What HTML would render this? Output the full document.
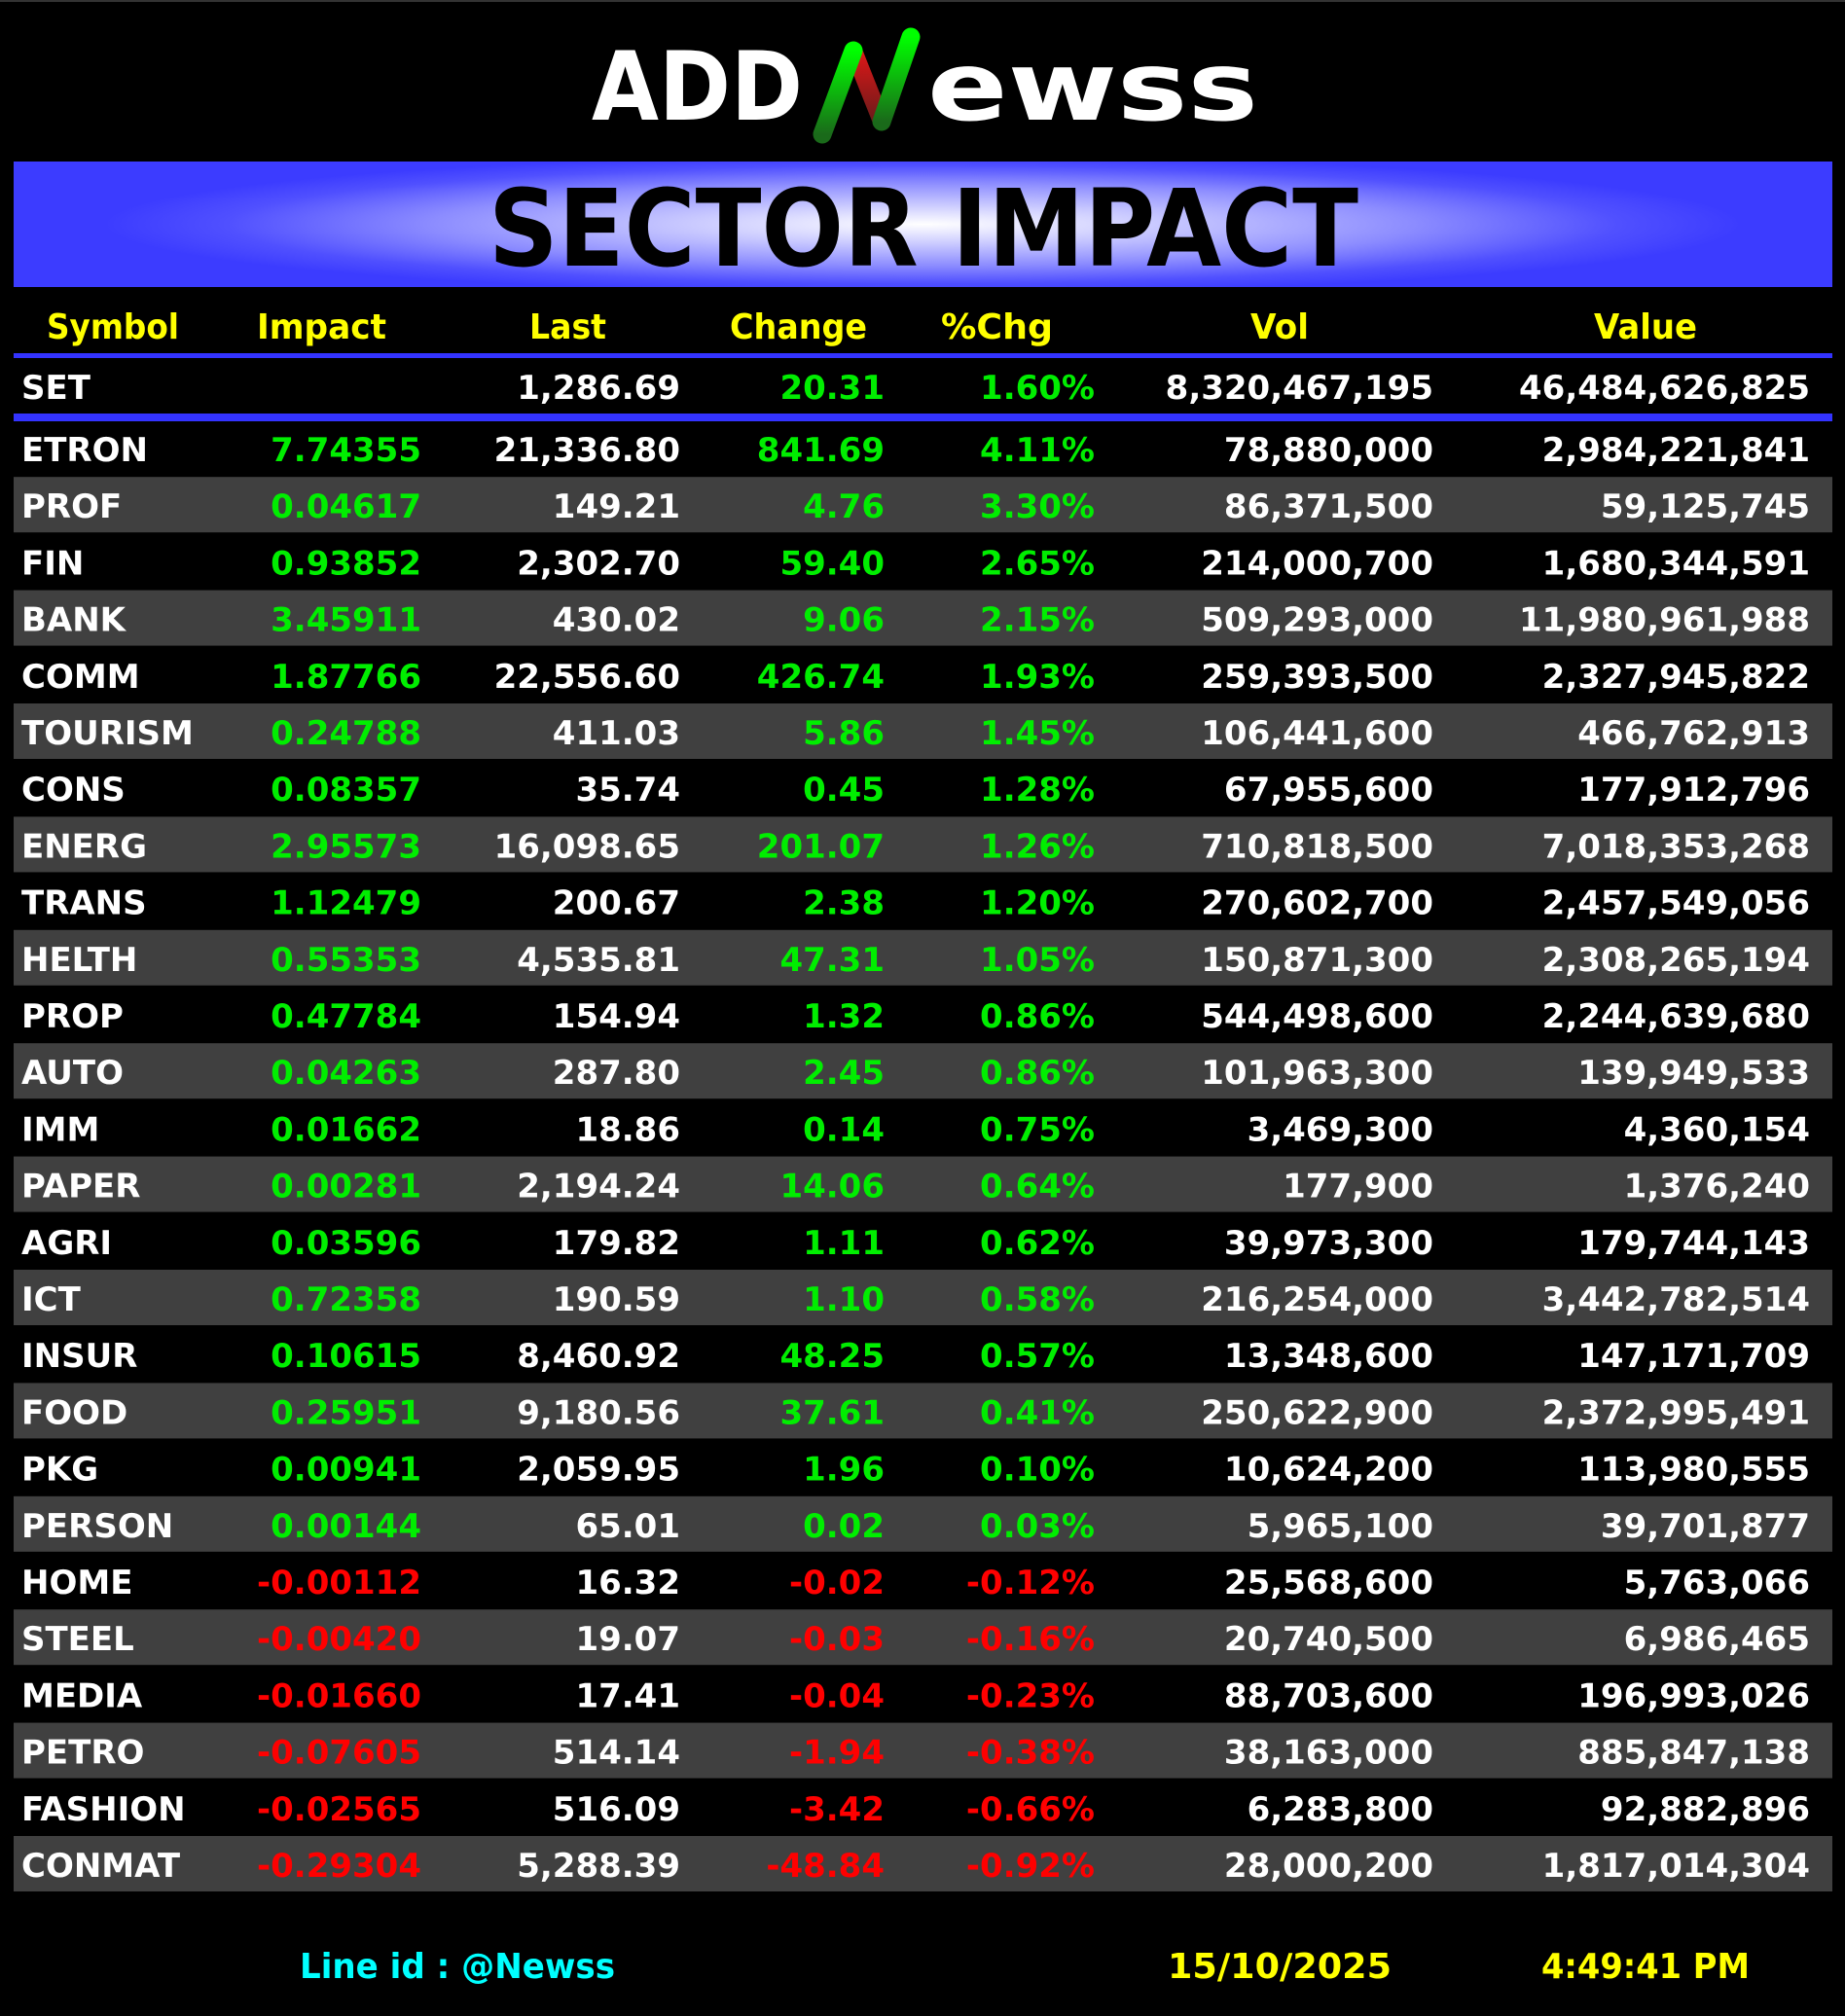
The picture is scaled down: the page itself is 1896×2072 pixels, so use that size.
<!DOCTYPE html>
<html><head><meta charset="utf-8"><style>
html,body{margin:0;padding:0;background:#000;}
svg{display:block;}
text{font-family:"DejaVu Sans","Liberation Sans",sans-serif;font-weight:bold;}
</style></head><body>
<svg width="1896" height="2072" viewBox="0 0 1896 2072" xmlns="http://www.w3.org/2000/svg">
<defs>
<radialGradient id="bg" cx="0.5" cy="0.5" r="0.5" gradientTransform="translate(0.5 0.5) scale(0.9 1.1) translate(-0.5 -0.5)">
<stop offset="0" stop-color="#ffffff"/>
<stop offset="0.25" stop-color="#d0d0ff"/>
<stop offset="0.6" stop-color="#8c8cff"/>
<stop offset="0.85" stop-color="#5050ff"/>
<stop offset="1" stop-color="#3c3cff"/>
</radialGradient>
<linearGradient id="gl" x1="0" y1="1" x2="0" y2="0"><stop offset="0" stop-color="#1a6a1a"/><stop offset="1" stop-color="#00ff00"/></linearGradient>
<linearGradient id="rd" x1="0" y1="0" x2="0" y2="1"><stop offset="0" stop-color="#e01818"/><stop offset="1" stop-color="#6a1a1a"/></linearGradient>
</defs>
<rect width="1896" height="2072" fill="#000"/>
<rect x="0" y="0" width="1896" height="2" fill="#333"/>
<!-- logo -->
<text x="608" y="123" font-size="98" fill="#fff" textLength="217" lengthAdjust="spacingAndGlyphs">ADD</text>
<text x="953" y="123" font-size="98" fill="#fff" textLength="340" lengthAdjust="spacingAndGlyphs">ewss</text>
<line x1="877" y1="52" x2="906" y2="125" stroke="url(#rd)" stroke-width="18" stroke-linecap="round"/>
<line x1="845" y1="138" x2="877" y2="52" stroke="url(#gl)" stroke-width="19" stroke-linecap="round"/>
<line x1="906" y1="125" x2="936" y2="38" stroke="url(#gl)" stroke-width="19" stroke-linecap="round"/>
<!-- banner -->
<rect x="14" y="166" width="1869" height="129" fill="#3c3cff"/>
<rect x="14" y="166" width="1869" height="129" fill="url(#bg)"/>
<text x="502" y="273" font-size="110" fill="#000" textLength="894" lengthAdjust="spacingAndGlyphs">SECTOR IMPACT</text>
<!-- headers -->
<g fill="#ffff00" font-size="36">
<text x="48" y="348" textLength="136" lengthAdjust="spacingAndGlyphs">Symbol</text>
<text x="264" y="348" textLength="133" lengthAdjust="spacingAndGlyphs">Impact</text>
<text x="544" y="348" textLength="79" lengthAdjust="spacingAndGlyphs">Last</text>
<text x="750" y="348" textLength="141" lengthAdjust="spacingAndGlyphs">Change</text>
<text x="967" y="348" textLength="115" lengthAdjust="spacingAndGlyphs">%Chg</text>
<text x="1285" y="348" textLength="60" lengthAdjust="spacingAndGlyphs">Vol</text>
<text x="1638" y="348" textLength="106" lengthAdjust="spacingAndGlyphs">Value</text>
</g>
<rect x="14" y="363" width="1869" height="5" fill="#3333ff"/>
<g font-size="34" text-anchor="end">
<text x="22" y="410" fill="#fff" text-anchor="start">SET</text>
<text x="699" y="410" fill="#fff">1,286.69</text>
<text x="909" y="410" fill="#00ee00">20.31</text>
<text x="1125" y="410" fill="#00ee00">1.60%</text>
<text x="1473" y="410" fill="#fff">8,320,467,195</text>
<text x="1860" y="410" fill="#fff">46,484,626,825</text>
</g>
<rect x="14" y="425" width="1869" height="8" fill="#3333ff"/>
<g id="rows" font-size="34"></g>
<!-- footer -->
<text x="308" y="2033" font-size="36" fill="#00ffff" textLength="324" lengthAdjust="spacingAndGlyphs">Line id  : @Newss</text>
<text x="1200" y="2033" font-size="36" fill="#ffff00" textLength="230" lengthAdjust="spacingAndGlyphs">15/10/2025</text>
<text x="1584" y="2033" font-size="36" fill="#ffff00" textLength="214" lengthAdjust="spacingAndGlyphs">4:49:41 PM</text>
</svg>
<script>
var d=[
["ETRON","7.74355","21,336.80","841.69","4.11%","78,880,000","2,984,221,841"],
["PROF","0.04617","149.21","4.76","3.30%","86,371,500","59,125,745"],
["FIN","0.93852","2,302.70","59.40","2.65%","214,000,700","1,680,344,591"],
["BANK","3.45911","430.02","9.06","2.15%","509,293,000","11,980,961,988"],
["COMM","1.87766","22,556.60","426.74","1.93%","259,393,500","2,327,945,822"],
["TOURISM","0.24788","411.03","5.86","1.45%","106,441,600","466,762,913"],
["CONS","0.08357","35.74","0.45","1.28%","67,955,600","177,912,796"],
["ENERG","2.95573","16,098.65","201.07","1.26%","710,818,500","7,018,353,268"],
["TRANS","1.12479","200.67","2.38","1.20%","270,602,700","2,457,549,056"],
["HELTH","0.55353","4,535.81","47.31","1.05%","150,871,300","2,308,265,194"],
["PROP","0.47784","154.94","1.32","0.86%","544,498,600","2,244,639,680"],
["AUTO","0.04263","287.80","2.45","0.86%","101,963,300","139,949,533"],
["IMM","0.01662","18.86","0.14","0.75%","3,469,300","4,360,154"],
["PAPER","0.00281","2,194.24","14.06","0.64%","177,900","1,376,240"],
["AGRI","0.03596","179.82","1.11","0.62%","39,973,300","179,744,143"],
["ICT","0.72358","190.59","1.10","0.58%","216,254,000","3,442,782,514"],
["INSUR","0.10615","8,460.92","48.25","0.57%","13,348,600","147,171,709"],
["FOOD","0.25951","9,180.56","37.61","0.41%","250,622,900","2,372,995,491"],
["PKG","0.00941","2,059.95","1.96","0.10%","10,624,200","113,980,555"],
["PERSON","0.00144","65.01","0.02","0.03%","5,965,100","39,701,877"],
["HOME","-0.00112","16.32","-0.02","-0.12%","25,568,600","5,763,066"],
["STEEL","-0.00420","19.07","-0.03","-0.16%","20,740,500","6,986,465"],
["MEDIA","-0.01660","17.41","-0.04","-0.23%","88,703,600","196,993,026"],
["PETRO","-0.07605","514.14","-1.94","-0.38%","38,163,000","885,847,138"],
["FASHION","-0.02565","516.09","-3.42","-0.66%","6,283,800","92,882,896"],
["CONMAT","-0.29304","5,288.39","-48.84","-0.92%","28,000,200","1,817,014,304"]];
var ns="http://www.w3.org/2000/svg",g=document.getElementById("rows");
var xs=[22,433,699,909,1125,1473,1860];
d.forEach(function(r,i){
  var top=432+58.2*i;
  if(i%2==1){var b=document.createElementNS(ns,"rect");b.setAttribute("x",14);b.setAttribute("y",top);b.setAttribute("width",1869);b.setAttribute("height",57);b.setAttribute("fill","#404040");g.appendChild(b);}
  var neg=r[1].charAt(0)=="-";
  r.forEach(function(v,j){
    var t=document.createElementNS(ns,"text");
    t.setAttribute("x",xs[j]);t.setAttribute("y",top+42);
    if(j>0)t.setAttribute("text-anchor","end");
    var c="#fff";if(j>=1&&j<=4&&j!=2)c=neg?"#ff0000":"#00ee00";
    t.setAttribute("fill",c);t.textContent=v;g.appendChild(t);
  });
});
</script>
</body></html>
